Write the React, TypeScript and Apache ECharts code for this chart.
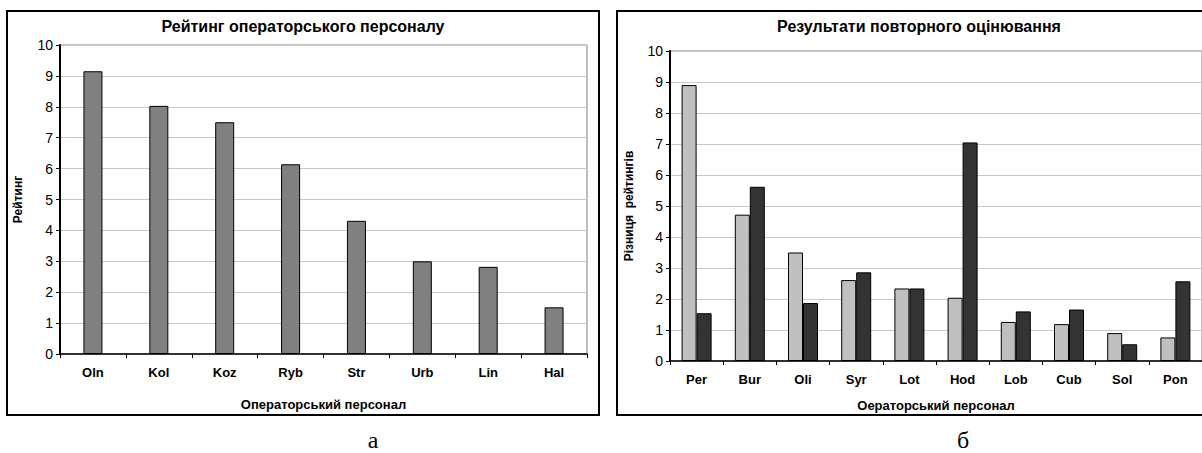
import React, { useEffect, useRef } from "react";
import * as echarts from "echarts";

const leftCategories = ["Oln", "Kol", "Koz", "Ryb", "Str", "Urb", "Lin", "Hal"];
const leftValues = [9.15, 8.03, 7.5, 6.14, 4.31, 3.0, 2.82, 1.51];

const rightCategories = ["Per", "Bur", "Oli", "Syr", "Lot", "Hod", "Lob", "Cub", "Sol", "Pon"];
const rightFirst = [8.9, 4.72, 3.5, 2.61, 2.34, 2.04, 1.26, 1.19, 0.9, 0.76];
const rightSecond = [1.54, 5.62, 1.87, 2.86, 2.34, 7.05, 1.6, 1.66, 0.54, 2.57];

const yTicks = [0, 10, 1];

const FONT = "'Liberation Sans', Arial, sans-serif";

function yAxis(gridIndex: number, name: string, nameGap: number) {
  return {
    type: "value",
    gridIndex,
    min: yTicks[0],
    max: yTicks[1],
    interval: yTicks[2],
    name,
    nameLocation: "middle",
    nameGap,
    nameTextStyle: { fontFamily: FONT, fontSize: 12, fontWeight: "bold", color: "#000" },
    axisLine: { show: true, lineStyle: { color: "#000", width: 2 } },
    axisTick: { show: true, length: 4, lineStyle: { color: "#000", width: 1 } },
    axisLabel: { fontFamily: FONT, fontSize: 14, color: "#000", margin: 7 },
    splitLine: { show: true, lineStyle: { color: "#c8c8c8", width: 1 } },
  };
}

function xAxis(gridIndex: number, data: string[], name: string, nameGap: number) {
  return {
    type: "category",
    gridIndex,
    data,
    name,
    nameLocation: "middle",
    nameGap,
    nameTextStyle: { fontFamily: FONT, fontSize: 13, fontWeight: "bold", color: "#000" },
    axisLine: { show: true, lineStyle: { color: "#000", width: 1.5 } },
    axisTick: { show: true, length: 4, lineStyle: { color: "#000", width: 1 } },
    axisLabel: { fontFamily: FONT, fontSize: 13, fontWeight: "bold", color: "#000", margin: 12 },
    splitLine: { show: false },
  };
}

export default function App() {
  const ref = useRef<HTMLDivElement>(null);
  useEffect(() => {
    if (!ref.current) return;
    const chart = echarts.init(ref.current, undefined, { renderer: "svg" });
    chart.setOption({
      animation: false,
      backgroundColor: "#fff",
      grid: [
        { left: 60, top: 45, width: 527, height: 309, show: true, borderColor: "#808080", borderWidth: 1, backgroundColor: "transparent" },
        { left: 670, top: 51, width: 533, height: 310, show: true, borderColor: "#808080", borderWidth: 1, backgroundColor: "transparent" },
      ],
      xAxis: [
        xAxis(0, leftCategories, "Операторський персонал", 44),
        xAxis(1, rightCategories, "Оераторський персонал", 38),
      ],
      yAxis: [
        yAxis(0, "Рейтинг", 36),
        yAxis(1, "Різниця  рейтингів", 35),
      ],
      series: [
        {
          type: "bar",
          xAxisIndex: 0,
          yAxisIndex: 0,
          data: leftValues,
          barWidth: 19,
          itemStyle: { color: "#808080", borderColor: "#000", borderWidth: 1 },
        },
        {
          type: "bar",
          xAxisIndex: 1,
          yAxisIndex: 1,
          data: rightFirst,
          barWidth: 15,
          barGap: "0%",
          itemStyle: { color: "#c0c0c0", borderColor: "#000", borderWidth: 1 },
        },
        {
          type: "bar",
          xAxisIndex: 1,
          yAxisIndex: 1,
          data: rightSecond,
          barWidth: 15,
          barGap: "0%",
          itemStyle: { color: "#333333", borderColor: "#000", borderWidth: 1 },
        },
      ],
      graphic: [
        { type: "rect", shape: { x: 7, y: 11, width: 592, height: 404 }, style: { fill: "none", stroke: "#000", lineWidth: 2 }, z: 10 },
        { type: "rect", shape: { x: 617, y: 11, width: 600, height: 404 }, style: { fill: "none", stroke: "#000", lineWidth: 2 }, z: 10 },
        {
          type: "text", x: 303, y: 26,
          style: { text: "Рейтинг операторського персоналу", font: `bold 16px ${FONT}`, fill: "#000", textAlign: "center", textVerticalAlign: "middle" },
        },
        {
          type: "text", x: 919, y: 26,
          style: { text: "Результати повторного оцінювання", font: `bold 16px ${FONT}`, fill: "#000", textAlign: "center", textVerticalAlign: "middle" },
        },
        {
          type: "text", x: 373, y: 440,
          style: { text: "а", font: `24px 'Liberation Serif', 'Times New Roman', serif`, fill: "#000", textAlign: "center", textVerticalAlign: "middle" },
        },
        {
          type: "text", x: 963, y: 440,
          style: { text: "б", font: `24px 'Liberation Serif', 'Times New Roman', serif`, fill: "#000", textAlign: "center", textVerticalAlign: "middle" },
        },
      ],
    });
    return () => chart.dispose();
  }, []);
  return <div ref={ref} style={{ position: "absolute", left: 0, top: 0, width: 1202, height: 453 }} />;
}
